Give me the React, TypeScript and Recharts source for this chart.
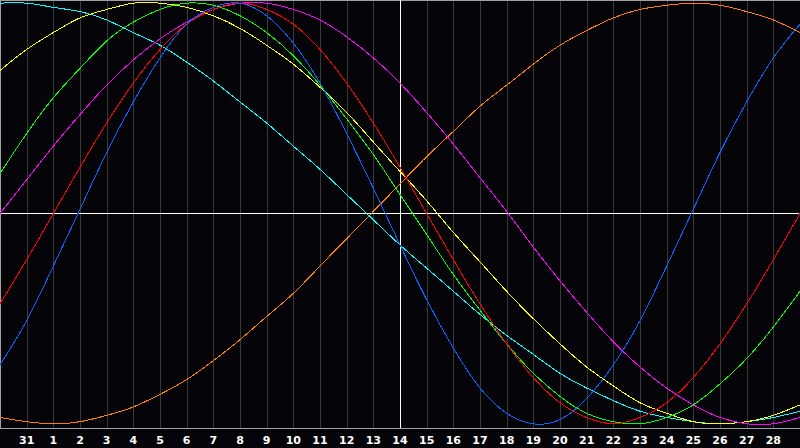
import React from "react";
import {
  LineChart,
  Line,
  XAxis,
  YAxis,
  CartesianGrid,
  ReferenceLine,
} from "recharts";

// x positions: 0..30 (one per day column), labels shown for 1..29
const positions = [
  0, 1, 2, 3, 4, 5, 6, 7, 8, 9, 10, 11, 12, 13, 14, 15, 16, 17, 18, 19, 20,
  21, 22, 23, 24, 25, 26, 27, 28, 29, 30,
];
const dayLabels = [
  "31", "1", "2", "3", "4", "5", "6", "7", "8", "9", "10", "11", "12", "13",
  "14", "15", "16", "17", "18", "19", "20", "21", "22", "23", "24", "25",
  "26", "27", "28",
];

const physical = [
  -72, -51, -25, 2, 29, 53, 74, 90, 98, 100, 94, 81, 62, 38, 12, -15, -41,
  -64, -83, -95, -100, -98, -88, -72, -51, -25, 2, 29, 53, 74, 90,
];
const emotional = [
  -43, -22, 0, 22, 43, 62, 78, 90, 97, 100, 97, 90, 78, 62, 43, 22, 0, -22,
  -43, -62, -78, -90, -97, -100, -97, -90, -78, -62, -43, -22, 0,
];
const intellectual = [
  19, 38, 55, 69, 82, 91, 97, 100, 99, 94, 86, 75, 61, 45, 28, 9, -10, -29,
  -46, -62, -76, -87, -95, -99, -100, -97, -91, -81, -69, -54, -37,
];
const intuitive = [
  0, 16, 32, 47, 61, 73, 83, 91, 97, 100, 100, 97, 92, 84, 74, 62, 48, 33,
  17, 1, -16, -32, -47, -61, -73, -83, -91, -97, -100, -100, -97,
];
const aesthetic = [
  68, 78, 86, 93, 97, 100, 100, 98, 94, 88, 80, 71, 60, 48, 34, 20, 6, -9,
  -23, -37, -50, -62, -73, -82, -90, -95, -99, -100, -99, -96, -91,
];
const spiritual = [
  100, 100, 98, 96, 92, 86, 80, 72, 63, 53, 43, 32, 21, 9, -3, -15, -26,
  -37, -48, -58, -67, -76, -83, -89, -94, -97, -99, -100, -99, -97, -94,
];
const awareness = [
  -97, -99, -100, -99, -96, -92, -86, -79, -70, -60, -49, -38, -25, -12, 1,
  14, 27, 39, 51, 61, 71, 80, 87, 93, 97, 99, 100, 99, 96, 92, 86,
];

const data = positions.map((x, i) => ({
  x,
  physical: physical[i],
  emotional: emotional[i],
  intellectual: intellectual[i],
  intuitive: intuitive[i],
  aesthetic: aesthetic[i],
  spiritual: spiritual[i],
  awareness: awareness[i],
}));

const tickPositions = dayLabels.map((_, i) => i + 1);

const series = [
  { key: "awareness", color: "#ff8000" },
  { key: "spiritual", color: "#00ffff" },
  { key: "aesthetic", color: "#ffff00" },
  { key: "intuitive", color: "#ff00ff" },
  { key: "intellectual", color: "#00ff00" },
  { key: "emotional", color: "#ff0000" },
  { key: "physical", color: "#0066ff" },
];

const crisp = { shapeRendering: "crispEdges" as const };

const App = () => {
  return (
    <div
      style={{
        position: "fixed",
        left: 0,
        top: 0,
        width: 800,
        height: 448,
        background: "#050408",
      }}
    >
      <LineChart
        width={800}
        height={448}
        data={data}
        margin={{ top: 0, right: 0, bottom: 0, left: 0 }}
      >
        <CartesianGrid
          horizontal={false}
          stroke="#3a3a3a"
          strokeWidth={1}
          style={crisp}
          verticalPoints={tickPositions.map((t) => Math.round((t * 800) / 30))}
        />
        <XAxis
          dataKey="x"
          type="number"
          domain={[0, 30]}
          ticks={tickPositions}
          interval={0}
          height={20}
          tickLine={false}
          axisLine={{ stroke: "#a0a0a0", style: crisp }}
          tickFormatter={(v: number) => dayLabels[v - 1]}
          tick={{
            fill: "#ffffff",
            fontSize: 11,
            fontWeight: "bold",
            fontFamily: "DejaVu Sans",
          }}
        />
        <YAxis hide type="number" domain={[-102, 101.5]} />
        <ReferenceLine y={101.5} stroke="#a0a0a0" style={crisp} />
        <ReferenceLine x={0} stroke="#a0a0a0" style={crisp} />
        <ReferenceLine y={0} stroke="#ffffff" style={crisp} />
        <ReferenceLine x={15} stroke="#ffffff" style={crisp} />
        {series.map((s) => (
          <Line
            key={s.key}
            dataKey={s.key}
            type="natural"
            stroke={s.color}
            strokeWidth={1}
            dot={false}
            activeDot={false}
            isAnimationActive={false}
            style={crisp}
          />
        ))}
      </LineChart>
    </div>
  );
};

export default App;
